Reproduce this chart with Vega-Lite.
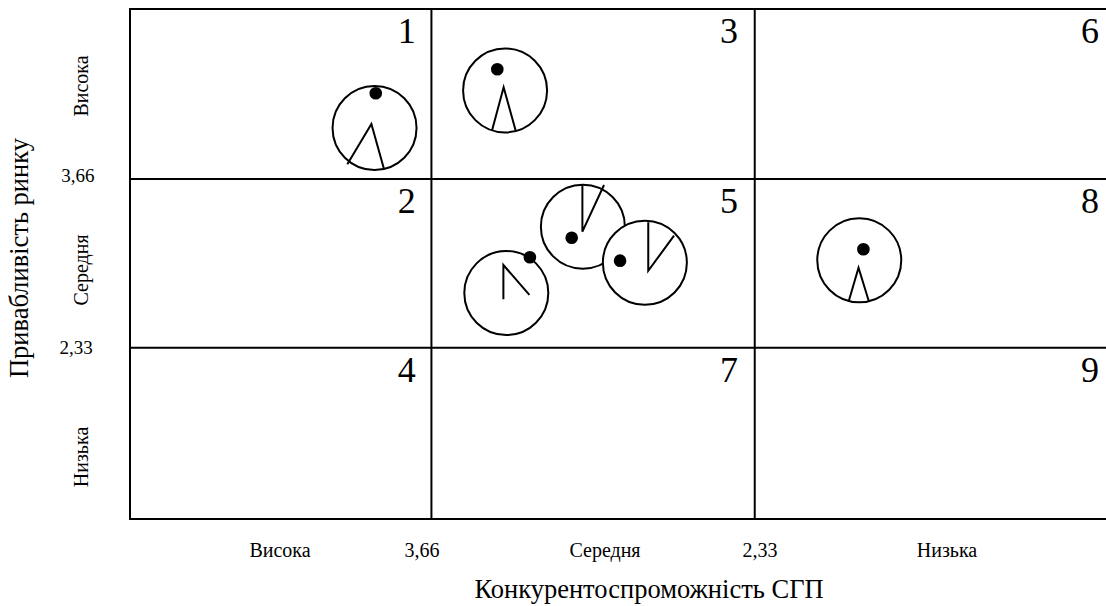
{
  "$schema": "https://vega.github.io/schema/vega-lite/v6.json",
  "autosize": {"type": "none"},
  "padding": {"left": 130, "top": 9, "right": 0, "bottom": 87},
  "width": 976,
  "height": 510,
  "background": "white",
  "config": {"view": {"stroke": null}, "text": {"font": "Liberation Serif", "color": "black"}},
  "datasets": {
    "grid": [
      {"x": 4.9, "x2": 0.885, "y": 5, "y2": 5},
      {"x": 4.9, "x2": 0.885, "y": 0.98, "y2": 0.98},
      {"x": 4.9, "x2": 4.9, "y": 0.98, "y2": 5},
      {"x": 3.66, "x2": 3.66, "y": 0.98, "y2": 5},
      {"x": 2.33, "x2": 2.33, "y": 0.98, "y2": 5},
      {"x": 4.9, "x2": 0.885, "y": 3.66, "y2": 3.66},
      {"x": 4.9, "x2": 0.885, "y": 2.33, "y2": 2.33}
    ],
    "circles": [
      {"id": "C1", "x": 3.894, "y": 4.062},
      {"id": "C3", "x": 3.357, "y": 4.358},
      {"id": "C8", "x": 1.9, "y": 3.019},
      {"id": "A", "x": 3.037, "y": 3.284},
      {"id": "B", "x": 2.782, "y": 3.0},
      {"id": "C", "x": 3.352, "y": 2.761}
    ],
    "dots": [
      {"id": "C1", "x": 3.889, "y": 4.336},
      {"id": "C3", "x": 3.389, "y": 4.525},
      {"id": "C8", "x": 1.883, "y": 3.106},
      {"id": "A", "x": 3.083, "y": 3.197},
      {"id": "B", "x": 2.884, "y": 3.016},
      {"id": "C", "x": 3.255, "y": 3.043}
    ],
    "wedges": [
      {"id": "C1", "o": 1, "x": 4.006, "y": 3.776},
      {"id": "C1", "o": 2, "x": 3.907, "y": 4.094},
      {"id": "C1", "o": 3, "x": 3.856, "y": 3.744},
      {"id": "C3", "o": 1, "x": 3.411, "y": 4.041},
      {"id": "C3", "o": 2, "x": 3.363, "y": 4.383},
      {"id": "C3", "o": 3, "x": 3.313, "y": 4.038},
      {"id": "C8", "o": 1, "x": 1.944, "y": 2.693},
      {"id": "C8", "o": 2, "x": 1.903, "y": 2.961},
      {"id": "C8", "o": 3, "x": 1.86, "y": 2.693},
      {"id": "A", "o": 1, "x": 3.039, "y": 3.613},
      {"id": "A", "o": 2, "x": 3.039, "y": 3.245},
      {"id": "A", "o": 3, "x": 2.95, "y": 3.613},
      {"id": "B", "o": 1, "x": 2.768, "y": 3.319},
      {"id": "B", "o": 2, "x": 2.768, "y": 2.937},
      {"id": "B", "o": 3, "x": 2.662, "y": 3.213},
      {"id": "C", "o": 1, "x": 3.364, "y": 2.712},
      {"id": "C", "o": 2, "x": 3.364, "y": 2.982},
      {"id": "C", "o": 3, "x": 3.257, "y": 2.746}
    ],
    "cells": [
      {"label": "1", "x": 3.724, "y": 4.732},
      {"label": "2", "x": 3.724, "y": 3.392},
      {"label": "4", "x": 3.724, "y": 2.06},
      {"label": "3", "x": 2.399, "y": 4.732},
      {"label": "5", "x": 2.399, "y": 3.392},
      {"label": "7", "x": 2.399, "y": 2.06},
      {"label": "6", "x": 0.914, "y": 4.732},
      {"label": "8", "x": 0.914, "y": 3.392},
      {"label": "9", "x": 0.914, "y": 2.06}
    ],
    "xlabels": [
      {"label": "Висока", "x": 4.283, "y": 0.68},
      {"label": "3,66", "x": 3.699, "y": 0.68},
      {"label": "Середня", "x": 2.946, "y": 0.68},
      {"label": "2,33", "x": 2.308, "y": 0.68},
      {"label": "Низька", "x": 1.539, "y": 0.68}
    ],
    "ylabels": [
      {"label": "Висока", "x": 5.097, "y": 4.393},
      {"label": "Середня", "x": 5.097, "y": 2.943},
      {"label": "Низька", "x": 5.097, "y": 1.469}
    ],
    "ynums": [
      {"label": "3,66", "x": 5.114, "y": 3.684},
      {"label": "2,33", "x": 5.122, "y": 2.328}
    ],
    "xtitle": [{"label": "Конкурентоспроможність СГП", "x": 2.765, "y": 0.357}],
    "ytitle": [{"label": "Привабливість ринку", "x": 5.352, "y": 3.037}]
  },
  "encoding": {
    "x": {"field": "x", "type": "quantitative", "scale": {"domain": [0.885, 4.9], "reverse": true, "nice": false, "zero": false}, "axis": null},
    "y": {"field": "y", "type": "quantitative", "scale": {"domain": [0.98, 5], "nice": false, "zero": false}, "axis": null}
  },
  "layer": [
    {
      "data": {"name": "grid"},
      "mark": {"type": "rule", "color": "black", "strokeWidth": 2, "strokeCap": "square", "clip": false},
      "encoding": {"x2": {"field": "x2"}, "y2": {"field": "y2"}}
    },
    {
      "data": {"name": "circles"},
      "mark": {"type": "point", "shape": "circle", "filled": false, "fill": "white", "fillOpacity": 1, "stroke": "black", "strokeWidth": 2, "opacity": 1, "size": 7056}
    },
    {
      "data": {"name": "wedges"},
      "mark": {"type": "line", "color": "black", "strokeWidth": 2},
      "encoding": {"detail": {"field": "id"}, "order": {"field": "o", "type": "quantitative"}}
    },
    {
      "data": {"name": "dots"},
      "mark": {"type": "point", "shape": "circle", "filled": true, "color": "black", "opacity": 1, "size": 160}
    },
    {
      "data": {"name": "cells"},
      "mark": {"type": "text", "align": "right", "baseline": "alphabetic", "fontSize": 36, "clip": false},
      "encoding": {"text": {"field": "label"}}
    },
    {
      "data": {"name": "xlabels"},
      "mark": {"type": "text", "align": "center", "baseline": "alphabetic", "fontSize": 20, "clip": false},
      "encoding": {"text": {"field": "label"}}
    },
    {
      "data": {"name": "ylabels"},
      "mark": {"type": "text", "align": "center", "baseline": "middle", "angle": 270, "fontSize": 20, "clip": false},
      "encoding": {"text": {"field": "label"}}
    },
    {
      "data": {"name": "ynums"},
      "mark": {"type": "text", "align": "center", "baseline": "middle", "fontSize": 19, "clip": false},
      "encoding": {"text": {"field": "label"}}
    },
    {
      "data": {"name": "xtitle"},
      "mark": {"type": "text", "align": "center", "baseline": "alphabetic", "fontSize": 26.5, "clip": false},
      "encoding": {"text": {"field": "label"}}
    },
    {
      "data": {"name": "ytitle"},
      "mark": {"type": "text", "align": "center", "baseline": "middle", "angle": 270, "fontSize": 26.5, "clip": false},
      "encoding": {"text": {"field": "label"}}
    }
  ]
}
